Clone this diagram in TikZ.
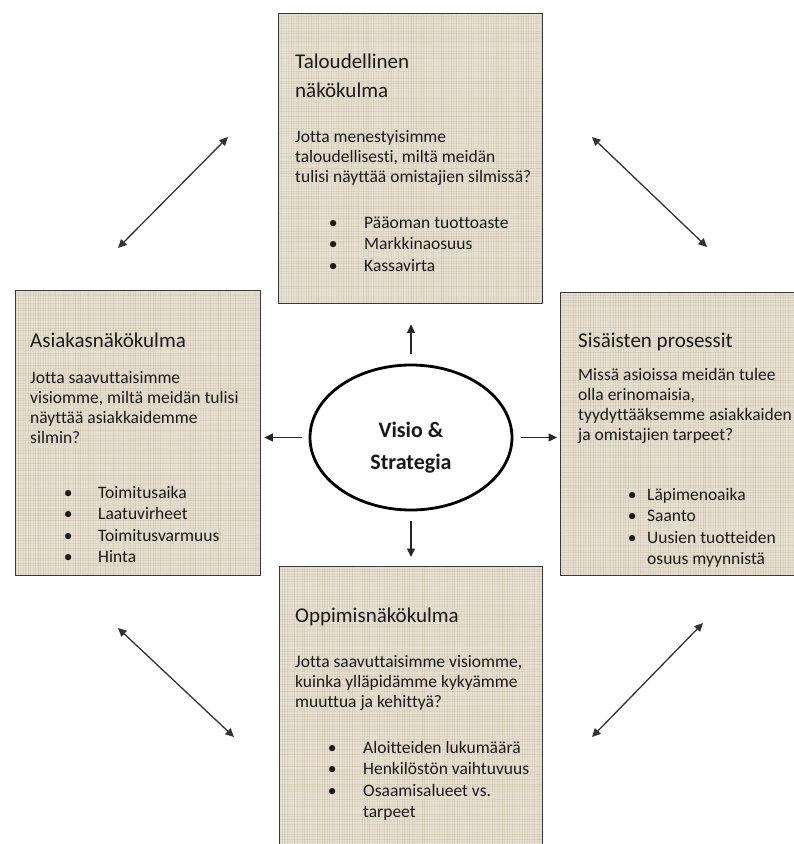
\documentclass[tikz,border=0pt]{standalone}
\usepackage{fontspec}
\setmainfont{Carlito}[Ligatures=NoCommon]
\usetikzlibrary{arrows.meta,shapes.geometric}

\definecolor{linenbase}{HTML}{E6DFD0}
\definecolor{linenline}{HTML}{A89676}
\definecolor{ink}{HTML}{1A1A1A}
\definecolor{frame}{HTML}{383838}

% bullet item: dot centred on the left edge, text after a fixed indent
\newcommand\bitem[2]{\makebox[#1][l]{\makebox[0pt]{\textbullet}}#2}

\begin{document}
\begin{tikzpicture}[x=1pt,y=-1pt,
  linen/.style={path picture={
    \pgfmathsetseed{#1}
    \foreach \i in {0,2.5,...,300} {
      \pgfmathsetmacro\opa{0.02+0.18*rnd}
      \draw[linenline, line width=0.6pt, opacity=\opa]
        ([xshift=\i pt]path picture bounding box.north west) --
        ([xshift=\i pt]path picture bounding box.south west);
      \pgfmathsetmacro\opb{0.02+0.18*rnd}
      \draw[linenline, line width=0.6pt, opacity=\opb]
        ([yshift=-\i pt]path picture bounding box.north west) --
        ([yshift=-\i pt]path picture bounding box.north east);
    }}},
  panel/.style={draw=frame, line width=1.4pt, fill=linenbase,
    anchor=north west, inner sep=0pt, linen=#1},
  title/.style={anchor=base west, inner sep=0pt, text=ink,
    font=\fontsize{21}{29}\selectfont},
  body/.style={anchor=base west, inner sep=0pt, text=ink,
    font=\fontsize{17.5}{20.3}\selectfont},
  blist/.style={anchor=base west, inner sep=0pt, text=ink,
    font=\fontsize{17.5}{21.6}\selectfont},
  arr/.style={line width=1.3pt, draw=black!85,
    -{Triangle[length=8.5pt,width=8pt]}},
  darr/.style={line width=1.3pt, draw=black!80,
    {Triangle[length=8.5pt,width=8pt]}-{Triangle[length=8.5pt,width=8pt]}}
]
\useasboundingbox (0,0) rectangle (794,844);
\clip (0,0) rectangle (794,844);

% ---- four perspective panels ----
\node[panel=11, minimum width=264pt, minimum height=290pt] (fin) at (278,13) {};
\node[panel=23, minimum width=245pt, minimum height=285pt] (cus) at (15,290) {};
\node[panel=37, minimum width=245pt, minimum height=283pt] (int) at (560,292) {};
\node[panel=41, minimum width=263pt, minimum height=290pt] (lrn) at (279,566) {};

% ---- financial perspective ----
\node[title] (finT) at (295,68) {\parbox[t]{240pt}{\raggedright Taloudellinen\\näkökulma}};
\node[body] (finB) at (295,142) {\parbox[t]{300pt}{\raggedright Jotta menestyisimme\\taloudellisesti, miltä meidän\\tulisi näyttää omistajien silmissä?}};
\node[blist] (finL) at (333,228) {\parbox[t]{300pt}{\raggedright
  \bitem{31pt}{Pääoman tuottoaste}\\
  \bitem{31pt}{Markkinaosuus}\\
  \bitem{31pt}{Kassavirta}}};

% ---- customer perspective ----
\node[title] (cusT) at (30,347) {Asiakasnäkökulma};
\node[body] (cusB) at (30,383) {\parbox[t]{300pt}{\raggedright Jotta saavuttaisimme\\visiomme, miltä meidän tulisi\\näyttää asiakkaidemme\\silmin?}};
\node[blist] (cusL) at (68,498) {\parbox[t]{300pt}{\raggedright
  \bitem{30pt}{Toimitusaika}\\
  \bitem{30pt}{Laatuvirheet}\\
  \bitem{30pt}{Toimitusvarmuus}\\
  \bitem{30pt}{Hinta}}};

% ---- internal process perspective ----
\node[title] (intT) at (578,347) {Sisäisten prosessit};
\node[body] (intB) at (578,380) {\parbox[t]{300pt}{\raggedright Missä asioissa meidän tulee\\olla erinomaisia,\\tyydyttääksemme asiakkaiden\\ja omistajien tarpeet?}};
\node[blist] (intL) at (632,500) {\parbox[t]{300pt}{\raggedright
  \bitem{15pt}{Läpimenoaika}\\
  \bitem{15pt}{Saanto}\\
  \bitem{15pt}{Uusien tuotteiden}\\
  \hspace*{15pt}osuus myynnistä}};

% ---- learning perspective ----
\node[title] (lrnT) at (295,622) {Oppimisnäkökulma};
\node[body] (lrnB) at (295,667) {\parbox[t]{300pt}{\raggedright Jotta saavuttaisimme visiomme,\\kuinka ylläpidämme kykyämme\\muuttua ja kehittyä?}};
\node[blist] (lrnL) at (332,753) {\parbox[t]{300pt}{\raggedright
  \bitem{31pt}{Aloitteiden lukumäärä}\\
  \bitem{31pt}{Henkilöstön vaihtuvuus}\\
  \bitem{31pt}{Osaamisalueet vs.}\\
  \hspace*{31pt}tarpeet}};

% ---- centre: vision and strategy ----
\node[ellipse, draw=black, line width=2.8pt, fill=white,
  minimum width=202pt, minimum height=145pt, inner sep=0pt] (vis) at (411,437.5) {};
\node[anchor=base, inner sep=0pt, text=ink,
  font=\fontsize{22}{32}\selectfont\bfseries] (visT) at (411,437)
  {\parbox[t]{180pt}{\centering Visio \&\\Strategia}};

% ---- arrows from the centre to each panel ----
\draw[arr, shorten <=10pt, shorten >=20pt] (vis.north) -- (vis.north |- fin.south);
\draw[arr, shorten <=10pt, shorten >=9pt]  (vis.south) -- (vis.south |- lrn.north);
\draw[arr, shorten <=7pt,  shorten >=3pt]  (vis.west)  -- (vis.west -| cus.east);
\draw[arr, shorten <=8pt,  shorten >=3pt]  (vis.east)  -- (vis.east -| int.west);

% ---- links between neighbouring perspectives ----
\coordinate (ftl) at (228,137);  \coordinate (ctl) at (118,248);
\coordinate (ftr) at (592,137);  \coordinate (itr) at (707,247);
\coordinate (cbl) at (118,628);  \coordinate (lbl) at (234,737);
\coordinate (ibr) at (703,623);  \coordinate (lbr) at (592,737);
\draw[darr] (ftl) -- (ctl);
\draw[darr] (ftr) -- (itr);
\draw[darr] (cbl) -- (lbl);
\draw[darr] (ibr) -- (lbr);
\end{tikzpicture}
\end{document}
